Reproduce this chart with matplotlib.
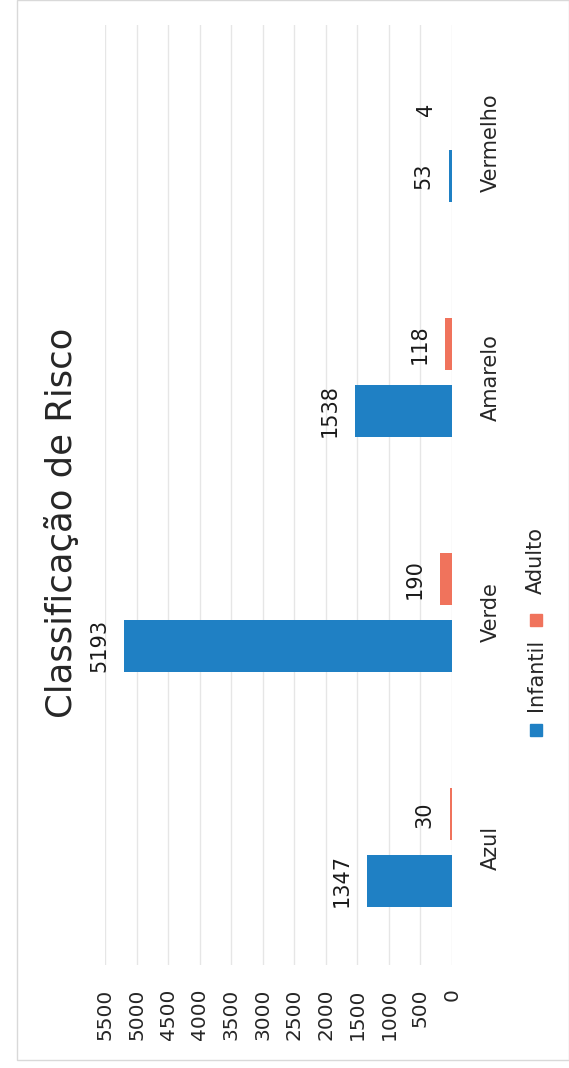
import matplotlib
matplotlib.use("Agg")
import matplotlib.pyplot as plt
from matplotlib.patches import Rectangle
import numpy as np

categorias = ["Azul", "Verde", "Amarelo", "Vermelho"]
infantil = [1347, 5193, 1538, 53]
adulto = [30, 190, 118, 4]
ticks_valor = list(range(0, 5501, 500))

azul = '#1f80c4'
laranja = '#f0735c'
texto = '#262626'

fig = plt.figure(figsize=(5.69, 10.68), dpi=100)
fig.patch.set_facecolor('white')

# chart border (light)
fig.patches.append(Rectangle((17 / 569, 1 - 1060 / 1068), 1 - 17 / 569, 1060 / 1068,
                             transform=fig.transFigure, fill=False,
                             edgecolor='#d9d9d9', linewidth=1))

ax = fig.add_axes([105 / 569, 1 - 965 / 1068, 347 / 569, 940 / 1068])

y = np.arange(len(categorias))
h = 0.222
off = 0.141
b1 = ax.barh(y - off, infantil, height=h, color=azul, label='Infantil')
b2 = ax.barh(y + off, adulto, height=h, color=laranja, label='Adulto')

ax.set_xlim(5500, 0)
ax.set_ylim(-0.5, 3.5)
ax.set_xticks(ticks_valor)
ax.set_xticklabels([str(t) for t in ticks_valor])
ax.grid(True, axis='x', color='#e6e6e6', linewidth=1)
ax.set_axisbelow(True)
for s in ax.spines.values():
    s.set_visible(False)

ax.tick_params(axis='x', length=0, pad=17, labelsize=14.5, labelcolor=texto, rotation=90)

ax.set_yticks(y)
ax.set_yticklabels(categorias)
ax.tick_params(axis='y', length=0, left=False, right=False, labelleft=False,
               labelright=True, pad=21, labelsize=15, labelcolor=texto, rotation=90)
for lab in ax.get_yticklabels():
    lab.set_va('center')

for barras in (b1, b2):
    for t in ax.bar_label(barras, padding=11, rotation=90, fontsize=15, color='#1a1a1a'):
        t.set_va('center')

fig.text(62 / 569, 1 - 523 / 1068, "Classificação de Risco", rotation=90,
         ha='center', va='center', fontsize=25.5, color=texto)

# legend, rotated like the rest of the chart
for cor, nome, yc, ytxt in [(azul, 'Infantil', 730, 675), (laranja, 'Adulto', 620, 561)]:
    fig.patches.append(Rectangle((530 / 569, 1 - (yc + 6) / 1068), 12 / 569, 12 / 1068,
                                 transform=fig.transFigure, color=cor))
    fig.text(536 / 569, 1 - ytxt / 1068, nome, rotation=90, ha='center', va='center',
             fontsize=15, color=texto)

fig.savefig('out.png', dpi=100)
